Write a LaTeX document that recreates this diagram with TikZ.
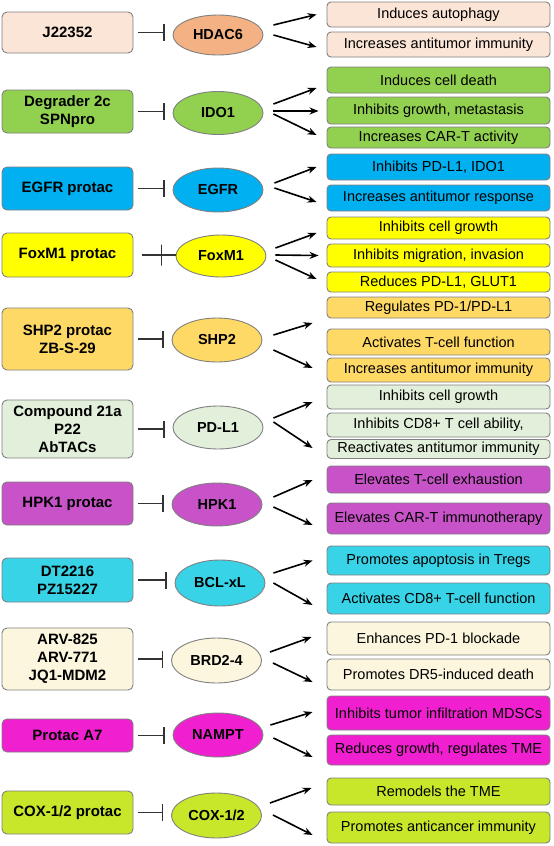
\documentclass[tikz,border=0pt]{standalone}
\usepackage{fontspec}
\setmainfont{Liberation Sans}
\usetikzlibrary{arrows.meta,shapes.geometric}

\definecolor{hdacpale}{HTML}{FBE5D6}
\definecolor{hdac}{HTML}{F4B183}
\definecolor{ido}{HTML}{92D050}
\definecolor{egfr}{HTML}{00B0F0}
\definecolor{foxm}{HTML}{FFFF00}
\definecolor{shp}{HTML}{FFD966}
\definecolor{pdl}{HTML}{E2EFDA}
\definecolor{hpk}{HTML}{C853C8}
\definecolor{bcl}{HTML}{38D3E6}
\definecolor{brd}{HTML}{FBF6DD}
\definecolor{nampt}{HTML}{F020D0}
\definecolor{cox}{HTML}{C8E62A}

\tikzstyle{drug} = [rectangle, rounded corners=5pt, draw=black!50, line width=0.9pt, minimum width=131pt, inner sep=0pt, align=center, font=\bfseries\fontsize{15}{18}\selectfont]
\tikzstyle{target} = [ellipse, draw=black!50, line width=0.9pt, minimum width=90pt, inner sep=0pt, font=\bfseries\fontsize{14.5}{17}\selectfont]
\tikzstyle{effect} = [rectangle, rounded corners=4pt, draw=black!50, line width=0.9pt, minimum width=223pt, inner sep=0pt, font=\fontsize{14.5}{17}\selectfont]
\tikzstyle{blocks} = [-{Bar[width=17pt]}, line width=1.1pt, draw=black!80, shorten <=5pt, shorten >=8pt]
\tikzstyle{crossbar} = [draw=black!80, line width=1.1pt, minimum width=0pt, minimum height=21pt, inner sep=0pt]
\tikzstyle{leads} = [-{Stealth[length=9pt,width=7pt]}, line width=1.6pt]

\begin{document}
\begin{tikzpicture}[x=1pt, y=-1pt]
\useasboundingbox (0,0) rectangle (554,846);

% HDAC6
\node (d1) [drug, fill=hdacpale, minimum height=41pt] at (67.5,32.5) {J22352};
\node (t1) [target, fill=hdac, minimum height=40pt] at (218,35) {HDAC6};
\node (e1a) [effect, fill=hdacpale, minimum height=25pt] at (438.5,14.5) {Induces autophagy};
\node (e1b) [effect, fill=hdacpale, minimum height=25pt] at (438.5,44.5) {Increases antitumor immunity};
\draw[blocks] (d1.east) -- (d1.east -| t1.west);
\draw[leads] ([shift={(10,-10)}]t1.east) -- ([shift={(-10,0)}]e1a.west);
\draw[leads] ([shift={(10,0)}]t1.east) -- ([shift={(-10,2.5)}]e1b.west);

% IDO1
\node (d2) [drug, fill=ido, minimum height=43pt] at (67.5,111.5) {Degrader 2c\\SPNpro};
\node (t2) [target, fill=ido, minimum height=43pt] at (218,113) {IDO1};
\node (e2a) [effect, fill=ido, minimum height=26pt] at (438.5,80) {Induces cell death};
\node (e2b) [effect, fill=ido, minimum height=27pt] at (438.5,110.5) {Inhibits growth, metastasis};
\node (e2c) [effect, fill=ido, minimum height=21pt] at (438.5,137.5) {Increases CAR-T activity};
\draw[blocks] (d2.east) -- (d2.east -| t2.west);
\draw[leads] ([shift={(10,-9)}]t2.east) -- ([shift={(-10,8)}]e2a.west);
\draw[leads] ([shift={(10,-2)}]t2.east) -- ([shift={(-8,0.5)}]e2b.west);
\draw[leads] ([shift={(10,1)}]t2.east) -- ([shift={(-10,-2.5)}]e2c.west);

% EGFR
\node (d3) [drug, fill=egfr, minimum height=43pt] at (67.5,188.5) {EGFR protac};
\node (t3) [target, fill=egfr, minimum height=44pt] at (218,190) {EGFR};
\node (e3a) [effect, fill=egfr, minimum height=26pt] at (438.5,167) {Inhibits PD-L1, IDO1};
\node (e3b) [effect, fill=egfr, minimum height=26pt] at (438.5,198) {Increases antitumor response};
\draw[blocks] (d3.east) -- (d3.east -| t3.west);
\draw[leads] ([shift={(11,-7)}]t3.east) -- ([shift={(-10,0)}]e3a.west);
\draw[leads] ([shift={(11,-2)}]t3.east) -- ([shift={(-10,4)}]e3b.west);

% FoxM1
\node (d4) [drug, fill=foxm, minimum height=44pt] at (67.5,255) {FoxM1 protac};
\node (t4) [target, fill=foxm, minimum height=42pt] at (221,256) {FoxM1};
\node (e4a) [effect, fill=foxm, minimum height=22pt] at (438.5,228) {Inhibits cell growth};
\node (e4b) [effect, fill=foxm, minimum height=23pt] at (438.5,255.5) {Inhibits migration, invasion};
\node (e4c) [effect, fill=foxm, minimum height=20pt] at (438.5,282) {Reduces PD-L1, GLUT1};
\draw[line width=1.1pt, draw=black!80, shorten <=9pt] (d4.east) -- (d4.east -| t4.west) node[crossbar, pos=0.67] {};
\draw[leads] ([shift={(9,-8)}]t4.east) -- ([shift={(-10,5)}]e4a.west);
\draw[leads] ([shift={(9,-1)}]t4.east) -- ([shift={(-8,0)}]e4b.west);
\draw[leads] ([shift={(9,4)}]t4.east) -- ([shift={(-10,-3)}]e4c.west);

% SHP2
\node (d5) [drug, fill=shp, minimum height=62pt] at (67.5,339) {SHP2 protac\\ZB-S-29};
\node (t5) [target, fill=shp, minimum height=44pt] at (217,340) {SHP2};
\node (e5a) [effect, fill=shp, minimum height=21pt] at (438.5,307.5) {Regulates PD-1/PD-L1};
\node (e5b) [effect, fill=shp, minimum height=26pt] at (438.5,342) {Activates T-cell function};
\node (e5c) [effect, fill=shp, minimum height=24pt] at (438.5,370) {Increases antitumor immunity};
\draw[blocks] (d5.east) -- (d5.east -| t5.west);
\draw[leads] ([shift={(11,-5)}]t5.east) -- ([shift={(-14,15.5)}]e5a.west);
\draw[leads] ([shift={(11,10)}]t5.east) -- ([shift={(-14,-2)}]e5c.west);

% PD-L1
\node (d6) [drug, fill=pdl, minimum height=58pt] at (67.5,429) {Compound 21a\\P22\\AbTACs};
\node (t6) [target, fill=pdl, minimum height=43pt] at (218,427.5) {PD-L1};
\node (e6a) [effect, fill=pdl, minimum height=24pt] at (438.5,397) {Inhibits cell growth};
\node (e6b) [effect, fill=pdl, minimum height=24pt] at (438.5,425) {Inhibits CD8+ T cell ability,};
\node (e6c) [effect, fill=pdl, minimum height=19pt] at (438.5,449) {Reactivates antitumor immunity};
\draw[blocks] (d6.east) -- (d6.east -| t6.west);
\draw[leads] ([shift={(10,-9.5)}]t6.east) -- ([shift={(-14,5)}]e6a.west);
\draw[leads] ([shift={(10,-5.5)}]t6.east) -- ([shift={(-14,-1)}]e6c.west);

% HPK1
\node (d7) [drug, fill=hpk, minimum height=43pt] at (67.5,503.5) {HPK1 protac};
\node (t7) [target, fill=hpk, minimum height=43pt] at (217,504.5) {HPK1};
\node (e7a) [effect, fill=hpk, minimum height=27pt] at (438.5,479.5) {Elevates T-cell exhaustion};
\node (e7b) [effect, fill=hpk, minimum height=31pt] at (438.5,518.5) {Elevates CAR-T immunotherapy};
\draw[blocks] (d7.east) -- (d7.east -| t7.west);
\draw[leads] ([shift={(11,-7.5)}]t7.east) -- ([shift={(-14,0.5)}]e7a.west);
\draw[leads] ([shift={(11,2.5)}]t7.east) -- ([shift={(-14,6.5)}]e7b.west);

% BCL-xL
\node (d8) [drug, fill=bcl, minimum height=44pt] at (67.5,580) {DT2216\\PZ15227};
\node (t8) [target, fill=bcl, minimum height=46pt] at (220,583) {BCL-xL};
\node (e8a) [effect, fill=bcl, minimum height=29pt] at (438.5,560.5) {Promotes apoptosis in Tregs};
\node (e8b) [effect, fill=bcl, minimum height=31pt] at (438.5,598.5) {Activates CD8+ T-cell function};
\draw[blocks] (d8.east) -- (d8.east -| t8.west);
\draw[leads] ([shift={(8,-10)}]t8.east) -- ([shift={(-14,0)}]e8a.west);
\draw[leads] ([shift={(8,0)}]t8.east) -- ([shift={(-14,6.5)}]e8b.west);

% BRD2-4
\node (d9) [drug, fill=brd, minimum height=62pt] at (67.5,659) {ARV-825\\ARV-771\\JQ1-MDM2};
\node (t9) [target, fill=brd, minimum height=45pt] at (216.5,660.5) {BRD2-4};
\node (e9a) [effect, fill=brd, minimum height=33pt] at (438.5,638.5) {Enhances PD-1 blockade};
\node (e9b) [effect, fill=brd, minimum height=31pt] at (438.5,674.5) {Promotes DR5-induced death};
\draw[blocks] (d9.east) -- (d9.east -| t9.west);
\draw[leads] ([shift={(8,-8.5)}]t9.east) -- ([shift={(-15,-1.5)}]e9a.west);
\draw[leads] ([shift={(11,2.5)}]t9.east) -- ([shift={(-14,7.5)}]e9b.west);

% NAMPT
\node (d10) [drug, fill=nampt, minimum height=33pt] at (67.5,735.5) {Protac A7};
\node (t10) [target, fill=nampt, minimum height=44pt] at (218,735) {NAMPT};
\node (e10a) [effect, fill=nampt, minimum height=34pt] at (438.5,713) {Inhibits tumor infiltration MDSCs};
\node (e10b) [effect, fill=nampt, minimum height=30pt] at (438.5,750) {Reduces growth, regulates TME};
\draw[blocks] (d10.east) -- (d10.east -| t10.west);
\draw[leads] ([shift={(7,-10)}]t10.east) -- ([shift={(-14,-1)}]e10a.west);
\draw[leads] ([shift={(10,3)}]t10.east) -- ([shift={(-14,7)}]e10b.west);

% COX-1/2
\node (d11) [drug, fill=cox, minimum height=43pt] at (67.5,812.5) {COX-1/2 protac};
\node (t11) [target, fill=cox, minimum height=45pt] at (216.5,815.5) {COX-1/2};
\node (e11a) [effect, fill=cox, minimum height=27pt] at (438.5,791.5) {Remodels the TME};
\node (e11b) [effect, fill=cox, minimum height=31pt] at (438.5,827.5) {Promotes anticancer immunity};
\draw[blocks] (d11.east) -- (d11.east -| t11.west);
\draw[leads] ([shift={(8,-12.5)}]t11.east) -- ([shift={(-15,-3.5)}]e11a.west);
\draw[leads] ([shift={(11,-0.5)}]t11.east) -- ([shift={(-14,7.5)}]e11b.west);
\end{tikzpicture}
\end{document}
